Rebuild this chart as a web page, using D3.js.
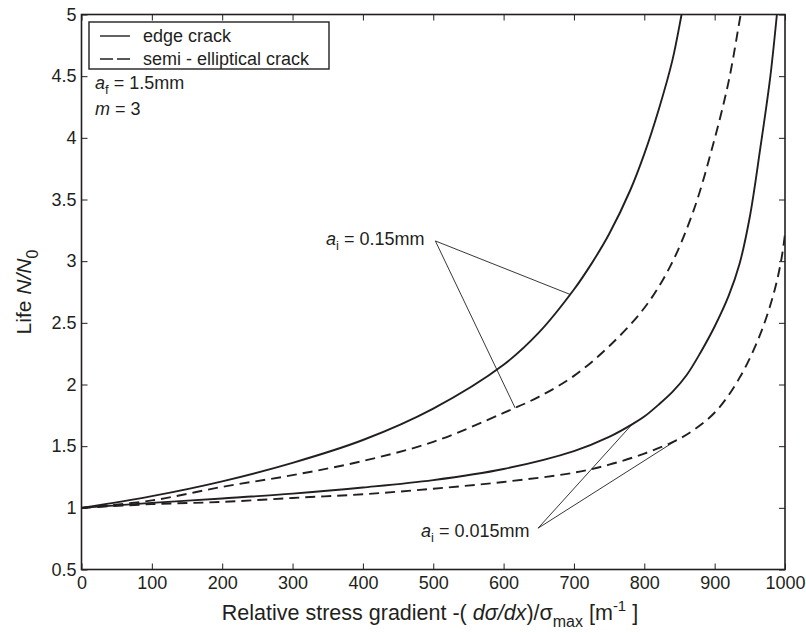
<!DOCTYPE html>
<html>
<head>
<meta charset="utf-8">
<script src="https://cdn.jsdelivr.net/npm/d3@7"></script>
<style>
  html, body { margin: 0; padding: 0; background: #fff; }
  svg { display: block; font-family: "Liberation Sans", Arial, Helvetica, sans-serif; }
</style>
</head>
<body>
<svg id="chart" width="806" height="633"></svg>
<script>
// Life ratio N/N0 against relative stress gradient, for two initial crack sizes
const xTicks = [0, 100, 200, 300, 400, 500, 600, 700, 800, 900, 1000];
const xTickLabels = ["0", "100", "200", "300", "400", "500", "600", "700", "800", "900", "1000"];
const yTicks = [0.5, 1, 1.5, 2, 2.5, 3, 3.5, 4, 4.5, 5];
const yTickLabels = ["0.5", "1", "1.5", "2", "2.5", "3", "3.5", "4", "4.5", "5"];

// edge crack, a_i = 0.15 mm
const edgeLarge = [[0,1],[100,1.095],[200,1.215],[300,1.365],[400,1.55],[500,1.805],[600,2.16],[650,2.42],[700,2.77],[725,2.98],[750,3.22],[780,3.575],[800,3.87],[820,4.22],[840,4.63],[853,5.0],[858,5.15]];
// semi-elliptical crack, a_i = 0.15 mm
const semiLarge = [[0,1],[100,1.06],[200,1.17],[300,1.265],[400,1.38],[500,1.535],[600,1.77],[650,1.90],[700,2.07],[750,2.31],[800,2.62],[837,2.96],[870,3.41],[898,3.95],[920,4.46],[937,5.0],[942,5.15]];
// edge crack, a_i = 0.015 mm
const edgeSmall = [[0,1],[100,1.04],[200,1.076],[300,1.115],[400,1.165],[500,1.225],[600,1.315],[700,1.46],[750,1.575],[785,1.685],[800,1.74],[820,1.835],[840,1.94],[860,2.075],[880,2.26],[900,2.47],[920,2.72],[935,2.97],[950,3.36],[965,3.92],[979,4.49],[988.5,5.0],[991,5.15]];
// semi-elliptical crack, a_i = 0.015 mm
const semiSmall = [[0,1],[100,1.03],[200,1.048],[300,1.08],[400,1.11],[500,1.155],[600,1.21],[700,1.285],[750,1.35],[800,1.44],[841,1.535],[870,1.63],[903,1.79],[936,2.06],[965,2.41],[985,2.76],[995,3.02],[1000,3.22]];

// leader lines: label anchor and the points on the curves they point to
const leaderLarge = { from: [503, 3.164], to: [[694.6, 2.73], [616.4, 1.81]] };
const leaderSmall = { from: [649, 0.835], to: [[784.7, 1.69], [846.3, 1.55]] };

const svg = d3.select("#chart");
const ink = "#231f20";
const plot = { left: 81.5, right: 785, top: 14.5, bottom: 569.5 };

const x = d3.scaleLinear().domain([0, 1000]).range([plot.left, plot.right]);
const y = d3.scaleLinear().domain([0.5, 5]).range([plot.bottom, plot.top]);

svg.append("defs").append("clipPath").attr("id", "plotClip")
  .append("rect")
  .attr("x", plot.left).attr("y", plot.top)
  .attr("width", plot.right - plot.left).attr("height", plot.bottom - plot.top);

// axes with inward ticks on all four sides
const tickLen = 6;
const fontSize = 18;
const bottomAxis = d3.axisBottom(x).tickValues(xTicks).tickSizeInner(-tickLen).tickSizeOuter(0).tickPadding(7)
  .tickFormat((d, i) => xTickLabels[i]);
const topAxis = d3.axisTop(x).tickValues(xTicks).tickSizeInner(-tickLen).tickSizeOuter(0).tickFormat("");
const leftAxis = d3.axisLeft(y).tickValues(yTicks).tickSizeInner(-tickLen).tickSizeOuter(0).tickPadding(5)
  .tickFormat((d, i) => yTickLabels[i]);
const rightAxis = d3.axisRight(y).tickValues(yTicks).tickSizeInner(-tickLen).tickSizeOuter(0).tickFormat("");

function styleAxis(g) {
  g.select(".domain").remove();
  g.selectAll(".tick line").attr("stroke", ink).attr("stroke-width", 1);
  g.selectAll(".tick text").attr("fill", ink).attr("font-size", fontSize).attr("font-family", "Liberation Sans, Arial, sans-serif");
}
svg.append("g").attr("transform", `translate(0,${plot.bottom})`).call(bottomAxis).call(styleAxis);
svg.append("g").attr("transform", `translate(0,${plot.top})`).call(topAxis).call(styleAxis);
svg.append("g").attr("transform", `translate(${plot.left},0)`).call(leftAxis).call(styleAxis);
svg.append("g").attr("transform", `translate(${plot.right},0)`).call(rightAxis).call(styleAxis);

// plot frame
svg.append("rect")
  .attr("x", plot.left).attr("y", plot.top)
  .attr("width", plot.right - plot.left).attr("height", plot.bottom - plot.top)
  .attr("fill", "none").attr("stroke", ink).attr("stroke-width", 1.6);

// curves
const line = d3.line().x(d => x(d[0])).y(d => y(d[1])).curve(d3.curveCatmullRom.alpha(0.5));
const curves = svg.append("g").attr("clip-path", "url(#plotClip)");
const series = [
  { data: edgeLarge, dash: null },
  { data: semiLarge, dash: "10,6" },
  { data: edgeSmall, dash: null },
  { data: semiSmall, dash: "10,6" }
];
series.forEach(s => {
  curves.append("path")
    .datum(s.data)
    .attr("d", line)
    .attr("fill", "none")
    .attr("stroke", ink)
    .attr("stroke-width", 1.9)
    .attr("stroke-dasharray", s.dash);
});

// leader lines
[leaderLarge, leaderSmall].forEach(l => {
  l.to.forEach(p => {
    curves.append("line")
      .attr("x1", x(l.from[0])).attr("y1", y(l.from[1]))
      .attr("x2", x(p[0])).attr("y2", y(p[1]))
      .attr("stroke", ink).attr("stroke-width", 0.9);
  });
});

// text helpers
function subLabel(g, xPos, yPos, main, sub, rest, anchor) {
  const t = g.append("text").attr("x", xPos).attr("y", yPos)
    .attr("font-size", fontSize).attr("fill", ink).attr("text-anchor", anchor || "start");
  t.append("tspan").attr("font-style", "italic").text(main);
  t.append("tspan").attr("font-size", 13).attr("dy", 5).text(sub);
  t.append("tspan").attr("dy", -5).text(rest);
  return t;
}

const ann = svg.append("g");
subLabel(ann, 326, 245, "a", "i", " = 0.15mm");
subLabel(ann, 421, 537, "a", "i", " = 0.015mm");
subLabel(ann, 95, 89, "a", "f", " = 1.5mm");
const mText = ann.append("text").attr("x", 95).attr("y", 115).attr("font-size", fontSize).attr("fill", ink);
mText.append("tspan").attr("font-style", "italic").text("m");
mText.append("tspan").text(" = 3");

// legend
const legend = svg.append("g");
legend.append("rect")
  .attr("x", 89).attr("y", 22).attr("width", 240).attr("height", 47)
  .attr("fill", "#fff").attr("stroke", ink).attr("stroke-width", 1.4);
const legendItems = [
  { label: "edge crack", dash: null, yPos: 36 },
  { label: "semi - elliptical crack", dash: "13,4", yPos: 59 }
];
legendItems.forEach(item => {
  legend.append("line")
    .attr("x1", 100).attr("x2", 130).attr("y1", item.yPos).attr("y2", item.yPos)
    .attr("stroke", ink).attr("stroke-width", 1.4).attr("stroke-dasharray", item.dash);
  legend.append("text").attr("x", 143).attr("y", item.yPos + 6)
    .attr("font-size", fontSize).attr("fill", ink).text(item.label);
});

// axis titles
const xTitle = svg.append("text")
  .attr("x", 430).attr("y", 620)
  .attr("text-anchor", "middle").attr("font-size", 21.5).attr("fill", ink);
xTitle.append("tspan").text("Relative stress gradient -( ");
xTitle.append("tspan").attr("font-style", "italic").text("d\u03c3/dx");
xTitle.append("tspan").text(")/\u03c3");
xTitle.append("tspan").attr("font-size", 16).attr("dy", 7).text("max");
xTitle.append("tspan").attr("dy", -7).text(" [m");
xTitle.append("tspan").attr("font-size", 15).attr("dy", -9).text("-1");
xTitle.append("tspan").attr("dy", 9).text(" ]");

const yTitle = svg.append("text")
  .attr("transform", `translate(31,${(plot.top + plot.bottom) / 2}) rotate(-90)`)
  .attr("text-anchor", "middle").attr("font-size", 21).attr("fill", ink);
yTitle.append("tspan").text("Life ");
yTitle.append("tspan").attr("font-style", "italic").text("N/N");
yTitle.append("tspan").attr("font-size", 16).attr("dy", 7).text("0");
</script>
</body>
</html>
